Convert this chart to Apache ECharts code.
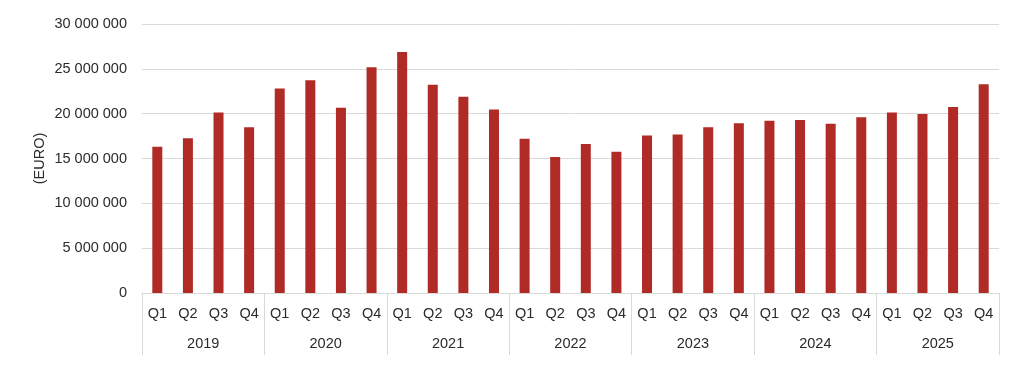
<!DOCTYPE html>
<html><head><meta charset="utf-8">
<script src="https://cdn.jsdelivr.net/npm/echarts@6/dist/echarts.min.js"></script>
<style>html,body{margin:0;padding:0;background:#fff}#c{width:1024px;height:366px}</style>
</head><body><div id="c"></div>
<script>
const years = ['2019','2020','2021','2022','2023','2024','2025'];
const quarters = ['Q1','Q2','Q3','Q4'];
const values = [
  16300000, 17270000, 20130000, 18490000,
  22810000, 23740000, 20650000, 25190000,
  26870000, 23220000, 21880000, 20460000,
  17190000, 15180000, 16630000, 15740000,
  17560000, 17670000, 18490000, 18940000,
  19200000, 19280000, 18870000, 19610000,
  20130000, 19950000, 20730000, 23290000
];
const yTicks = [0, 5000000, 10000000, 15000000, 20000000, 25000000, 30000000];

const cats = [];
years.forEach(y => quarters.forEach(q => cats.push(y + ' ' + q)));

function fmt(v){ return String(v).replace(/\B(?=(\d{3})+(?!\d))/g, ' '); }

const font = '"Liberation Sans", Arial, sans-serif';
const fs = 14.5;
const chart = echarts.init(document.getElementById('c'), null, {renderer:'canvas'});
chart.setOption({
  animation: false,
  grid: {left: 142, right: 25, top: 24, bottom: 73, containLabel: false},
  xAxis: [
    {
      type: 'category', data: cats, position: 'bottom',
      axisLine: {show: true, lineStyle: {color: '#d9d9d9', width: 1}},
      axisTick: {show: false},
      axisLabel: {formatter: v => v.split(' ')[1], color: '#2b2b2b', fontSize: fs, fontFamily: font, margin: 13, interval: 0}
    },
    {
      type: 'category', data: years, position: 'bottom', offset: 62,
      axisLine: {show: false},
      axisTick: {show: true, inside: true, length: 62, lineStyle: {color: '#d9d9d9', width: 1}},
      axisLabel: {inside: true, color: '#2b2b2b', fontSize: fs, fontFamily: font, margin: 4},
      splitLine: {show: false}
    }
  ],
  yAxis: {
    type: 'value', min: yTicks[0], max: yTicks[yTicks.length-1], interval: yTicks[1]-yTicks[0],
    name: '(EURO)', nameLocation: 'middle', nameGap: 95, nameRotate: 90, nameMoveOverlap: false,
    nameTextStyle: {color: '#2b2b2b', fontSize: fs, fontFamily: font},
    axisLine: {show: false}, axisTick: {show: false},
    axisLabel: {formatter: fmt, color: '#2b2b2b', fontSize: fs, fontFamily: font, margin: 15},
    splitLine: {lineStyle: {color: '#d9d9d9', width: 1}}
  },
  series: [{
    type: 'bar', data: values, xAxisIndex: 0, barWidth: 10,
    itemStyle: {color: '#b02a26'}
  }]
});
</script></body></html>
